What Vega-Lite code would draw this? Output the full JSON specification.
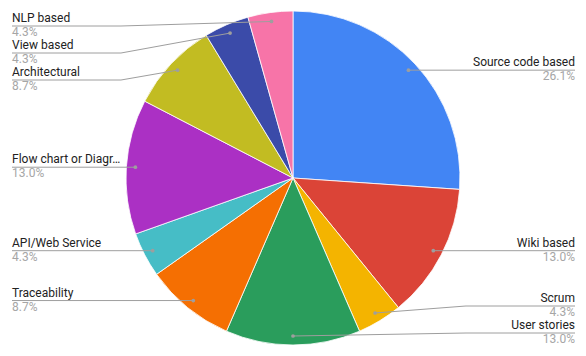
{
  "$schema": "https://vega.github.io/schema/vega-lite/v6.json",
  "width": 586,
  "height": 356,
  "autosize": {"type": "fit", "contains": "padding"},
  "padding": 0,
  "background": "white",
  "config": {"view": {"stroke": null}, "font": "Roboto"},
  "data": {
    "values": [
      {"idx": 1, "category": "Source code based", "n": 6},
      {"idx": 2, "category": "Wiki based", "n": 3},
      {"idx": 3, "category": "Scrum", "n": 1},
      {"idx": 4, "category": "User stories", "n": 3},
      {"idx": 5, "category": "Traceability", "n": 2},
      {"idx": 6, "category": "API/Web Service", "n": 1},
      {"idx": 7, "category": "Flow chart or Diagr…", "n": 3},
      {"idx": 8, "category": "Architectural", "n": 2},
      {"idx": 9, "category": "View based", "n": 1},
      {"idx": 10, "category": "NLP based", "n": 1}
    ]
  },
  "transform": [
    {"joinaggregate": [{"op": "sum", "field": "n", "as": "total"}]},
    {"window": [{"op": "sum", "field": "n", "as": "cum"}], "sort": [{"field": "idx", "order": "ascending"}], "frame": [null, 0]},
    {"calculate": "(datum.cum - datum.n / 2) / datum.total * 2 * PI", "as": "mid"},
    {"calculate": "format(datum.n / datum.total, '.1%')", "as": "pct"},
    {"calculate": "293 + 158 * sin(datum.mid)", "as": "dotx"},
    {"calculate": "178 - 158 * cos(datum.mid)", "as": "doty"},
    {"calculate": "datum.mid <= PI + 0.001 ? 'right' : 'left'", "as": "side"},
    {"window": [{"op": "row_number", "as": "i"}], "groupby": ["side"], "sort": [{"field": "doty", "order": "ascending"}]},
    {"calculate": "datum.doty - (datum.i - 1) * 27", "as": "v"},
    {"window": [{"op": "max", "field": "v", "as": "vmax"}], "groupby": ["side"], "sort": [{"field": "doty", "order": "ascending"}], "frame": [null, 0]},
    {"calculate": "(datum.i - 1) * 27 + max(26, datum.vmax)", "as": "y1"},
    {"window": [{"op": "row_number", "as": "k"}], "groupby": ["side"], "sort": [{"field": "y1", "order": "descending"}]},
    {"calculate": "datum.y1 + (datum.k - 1) * 27", "as": "w"},
    {"window": [{"op": "min", "field": "w", "as": "wmin"}], "groupby": ["side"], "sort": [{"field": "y1", "order": "descending"}], "frame": [null, 0]},
    {"calculate": "min(333, datum.wmin) - (datum.k - 1) * 27", "as": "ly"},
    {"calculate": "datum.side == 'right' ? 466 : 121", "as": "elbowx"},
    {"calculate": "datum.side == 'right' ? 575 : 12", "as": "edgex"}
  ],
  "layer": [
    {
      "mark": {"type": "arc", "outerRadius": 167, "stroke": "white", "strokeWidth": 0.8},
      "encoding": {
        "theta": {"field": "n", "type": "quantitative", "stack": true},
        "order": {"field": "idx", "type": "quantitative"},
        "color": {
          "field": "category",
          "type": "nominal",
          "sort": {"field": "idx"},
          "legend": null,
          "scale": {
            "domain": ["Source code based", "Wiki based", "Scrum", "User stories", "Traceability", "API/Web Service", "Flow chart or Diagr…", "Architectural", "View based", "NLP based"],
            "range": ["#4285f4", "#db4437", "#f4b400", "#2a9d5c", "#f56f02", "#46bdc6", "#ab30c4", "#c2bc22", "#3b4ba9", "#f774a8"]
          }
        }
      }
    },
    {
      "mark": {"type": "rule", "color": "#9e9e9e", "strokeWidth": 1},
      "encoding": {
        "x": {"field": "dotx", "type": "quantitative", "scale": {"domain": [0, 586], "nice": false, "zero": false}, "axis": null},
        "y": {"field": "doty", "type": "quantitative", "scale": {"domain": [0, 356], "nice": false, "zero": false, "reverse": true}, "axis": null},
        "x2": {"field": "elbowx"},
        "y2": {"field": "ly"}
      }
    },
    {
      "mark": {"type": "rule", "color": "#9e9e9e", "strokeWidth": 1},
      "encoding": {
        "x": {"field": "elbowx", "type": "quantitative", "axis": null},
        "y": {"field": "ly", "type": "quantitative", "axis": null},
        "x2": {"field": "edgex"}
      }
    },
    {
      "mark": {"type": "point", "filled": true, "size": 14, "color": "#9e9e9e", "opacity": 1},
      "encoding": {
        "x": {"field": "dotx", "type": "quantitative", "axis": null},
        "y": {"field": "doty", "type": "quantitative", "axis": null}
      }
    },
    {
      "mark": {"type": "text", "fontSize": 12, "color": "#222222", "baseline": "alphabetic", "dy": -4, "align": {"expr": "datum.side == 'right' ? 'right' : 'left'"}},
      "encoding": {
        "x": {"field": "edgex", "type": "quantitative", "axis": null},
        "y": {"field": "ly", "type": "quantitative", "axis": null},
        "text": {"field": "category"}
      }
    },
    {
      "mark": {"type": "text", "fontSize": 12, "color": "#a6a6a6", "baseline": "top", "dy": 1, "align": {"expr": "datum.side == 'right' ? 'right' : 'left'"}},
      "encoding": {
        "x": {"field": "edgex", "type": "quantitative", "axis": null},
        "y": {"field": "ly", "type": "quantitative", "axis": null},
        "text": {"field": "pct"}
      }
    }
  ]
}
